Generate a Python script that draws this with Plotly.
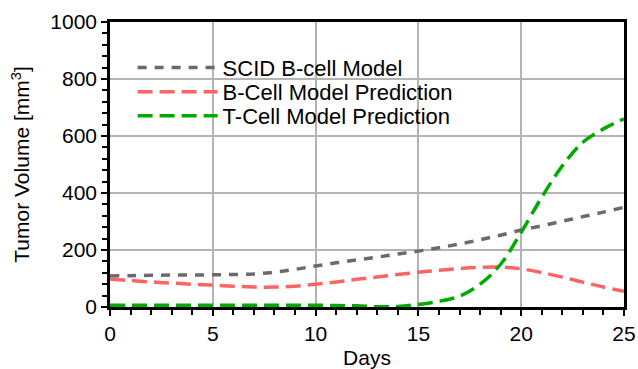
import plotly.graph_objects as go

days = list(range(0, 26))
scid_bcell = [109, 110, 111, 112, 112, 113, 114, 116, 122, 132, 144, 155, 165, 175, 186,
              196, 208, 221, 236, 252, 270, 285, 301, 317, 333, 350]
bcell_pred = [98, 93, 88, 84, 80, 77, 73, 70, 70, 73, 80, 88, 97, 105, 114,
              122, 129, 135, 139, 140, 134, 121, 105, 87, 70, 55]
tcell_pred = [6, 6, 6, 6, 6, 6, 6, 6, 6, 6, 6, 5, 4, 1, 2,
              9, 20, 38, 80, 150, 262, 385, 495, 578, 625, 660]

fig = go.Figure()
fig.add_trace(go.Scatter(x=days, y=scid_bcell, mode="lines", name="SCID B-cell Model", legend="legend",
                         line=dict(color="#6a6a6a", width=3.5, dash="9px,8px", shape="spline")))
fig.add_trace(go.Scatter(x=days, y=bcell_pred, mode="lines", name="B-Cell Model Prediction", legend="legend2",
                         line=dict(color="#ff6464", width=3.5, dash="15px,7px", shape="spline")))
fig.add_trace(go.Scatter(x=days, y=tcell_pred, mode="lines", name="T-Cell Model Prediction", legend="legend3",
                         line=dict(color="#00aa00", width=3.5, dash="15px,7px", shape="spline")))

font = "Liberation Sans, Arial, sans-serif"
leg = dict(x=0.044, xanchor="left", yanchor="middle", bgcolor="rgba(0,0,0,0)",
           font=dict(size=22, color="black"), itemwidth=80)
tickfont = dict(family=font, size=21, color="black")
fig.update_layout(
    width=638, height=369,
    margin=dict(l=110, r=14, t=22, b=62),
    paper_bgcolor="white", plot_bgcolor="white",
    font=dict(family=font, size=21, color="black"),
    showlegend=True,
    legend=dict(leg, y=0.84),
    legend2=dict(leg, y=0.755),
    legend3=dict(leg, y=0.67),
    xaxis=dict(range=[0, 25], dtick=5, showgrid=True, gridcolor="#b4b4b4", gridwidth=1.5,
               showline=True, linecolor="black", linewidth=2.5, mirror=True, automargin=False,
               ticks="outside", ticklen=6, tickwidth=1.5, tickcolor="black", tickfont=tickfont,
               minor=dict(dtick=1, ticks="outside", ticklen=5, tickwidth=1.5, tickcolor="black", showgrid=False),
               title=dict(text="Days", font=dict(size=21, color="black")), zeroline=False),
    yaxis=dict(range=[0, 1000], dtick=200, showgrid=True, gridcolor="#b4b4b4", gridwidth=1.5,
               showline=True, linecolor="black", linewidth=2.5, mirror=True, automargin=False,
               ticks="outside", ticklen=6, tickwidth=1.5, tickcolor="black", tickfont=tickfont,
               minor=dict(dtick=40, ticks="outside", ticklen=5, tickwidth=1.5, tickcolor="black", showgrid=False),
               title=dict(text="Tumor Volume [mm<sup>3</sup>]", font=dict(size=21, color="black")), zeroline=False),
)

fig.write_html("out.html")
